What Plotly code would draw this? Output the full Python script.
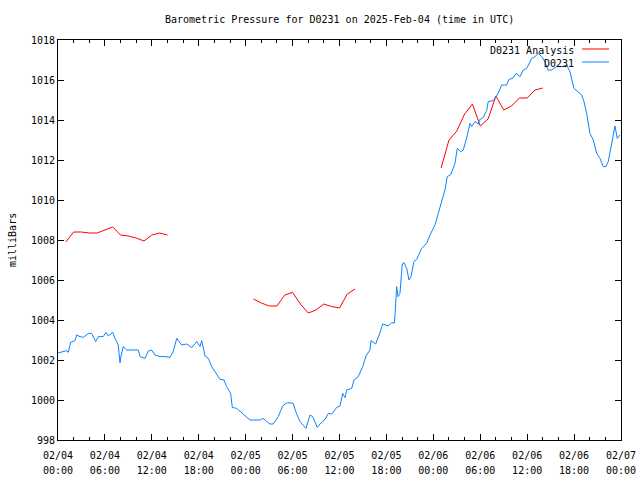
import pandas as pd
import numpy as np
import plotly.graph_objects as go

BASE = pd.Timestamp("2025-02-04 00:00")

# Observed pressure D0231 (hours since 2025-02-04 00:00 UTC, mb)
obs_hours = [0.0, 0.26, 1.11, 1.32, 1.62, 2.17, 2.39, 2.81, 3.24, 3.87, 4.31, 4.82, 5.15, 5.79, 6.14, 6.43, 6.99,
             7.29, 7.71, 7.93, 8.06, 8.35, 8.79, 10.27, 10.49, 11.13, 11.55, 11.98, 12.40, 13.04, 13.68,
             14.32, 14.74, 15.18, 15.82, 16.46, 17.10, 17.74, 18.16, 18.38, 18.80, 19.22, 19.65, 20.08,
             20.72, 21.23, 21.57, 22.08, 22.29, 22.85, 23.70, 24.55, 25.83, 26.25, 26.69, 27.11, 27.53,
             28.17, 28.73, 29.32, 30.09, 30.40, 30.95, 31.71, 32.23, 32.57, 33.16, 33.50, 34.14, 34.57,
             35.00, 35.64, 36.06, 36.41, 36.70, 36.92, 37.56, 37.85, 38.40, 38.97, 39.39, 39.90, 40.03,
             40.63, 41.18, 41.52, 42.24, 42.67, 43.01, 43.10, 43.31, 43.48, 43.73, 44.03, 44.25, 44.59,
             44.89, 45.14, 45.52, 45.87, 46.51, 47.15, 47.57, 47.99, 48.21, 48.63, 49.07, 49.49, 49.78,
             50.22, 50.77, 51.06, 51.50, 51.83, 52.26, 52.69, 52.90, 53.32, 53.75, 53.87, 54.38, 54.82,
             55.02, 55.66, 56.29, 56.73, 57.37, 57.67, 58.15, 58.57, 59.08, 59.50, 59.94, 60.58, 61.00,
             61.42, 61.86, 62.28, 62.66, 63.13, 63.77, 64.62, 65.05, 65.47, 65.98, 66.53, 66.97, 67.26,
             67.61, 68.03, 68.45, 68.89, 69.31, 69.73, 70.08, 70.37, 70.81, 71.23, 71.52, 71.87]
obs_mb = [1002.35, 1002.38, 1002.47, 1002.38, 1002.88, 1002.97, 1003.25, 1003.17, 1003.13, 1003.33, 1003.33,
          1002.92, 1003.17, 1003.17, 1003.38, 1003.2, 1003.38, 1003.08, 1002.75, 1001.85, 1002.2, 1002.67,
          1002.5, 1002.5, 1002.17, 1002.08, 1002.45, 1002.5, 1002.25, 1002.17, 1002.17, 1002.13, 1002.42,
          1003.08, 1002.75, 1002.8, 1002.62, 1002.92, 1002.67, 1002.97, 1002.2, 1002.08, 1001.67, 1001.42,
          1001.03, 1001.0, 1000.67, 1000.33, 999.63, 999.58, 999.3, 999.0, 999.0, 999.08, 998.92, 998.8,
          998.8, 999.17, 999.7, 999.87, 999.83, 999.42, 998.92, 998.58, 999.25, 999.17, 998.63, 998.8,
          999.03, 999.33, 999.3, 999.63, 999.7, 1000.33, 1000.12, 1000.5, 1000.58, 1001.0, 1001.17,
          1001.67, 1002.2, 1002.5, 1002.97, 1002.8, 1003.37, 1003.8, 1003.7, 1003.87, 1003.85, 1004.25,
          1005.67, 1005.17, 1005.33, 1006.8, 1006.87, 1006.58, 1006.0, 1006.17, 1006.92, 1007.03, 1007.58,
          1007.83, 1008.25, 1008.58, 1008.75, 1009.33, 1010.0, 1010.5, 1011.17, 1011.27, 1011.83, 1012.58,
          1012.42, 1012.5, 1013.1, 1013.83, 1013.67, 1013.92, 1013.8, 1014.0, 1014.13, 1014.47, 1014.92,
          1014.97, 1015.33, 1015.75, 1015.75, 1016.03, 1016.08, 1016.33, 1016.17, 1016.5, 1016.58, 1017.08,
          1017.17, 1017.33, 1017.17, 1016.9, 1016.5, 1016.5, 1016.67, 1016.67, 1016.75, 1016.42, 1015.58,
          1015.42, 1015.25, 1014.92, 1014.33, 1013.33, 1013.0, 1012.33, 1012.08, 1011.67, 1011.67, 1011.92,
          1012.83, 1013.7, 1013.08, 1013.25]

# Analysis (hourly, three segments separated by gaps)
ana_hours = [1, 2, 3, 4, 5, 6, 7, 8, 9, 10, 11, 12, 13, 14, None,
             25, 26, 27, 28, 29, 30, 31, 32, 33, 34, 35, 36, 37, 38, None,
             49, 50, 51, 52, 53, 54, 55, 56, 57, 58, 59, 60, 61, 62]
ana_mb = [1007.9, 1008.4, 1008.4, 1008.35, 1008.35, 1008.5, 1008.65, 1008.25, 1008.2, 1008.1, 1007.95,
          1008.25, 1008.35, 1008.25, None,
          1005.05, 1004.85, 1004.7, 1004.7, 1005.25, 1005.38, 1004.8, 1004.35, 1004.5, 1004.8, 1004.67,
          1004.6, 1005.3, 1005.55, None,
          1011.6, 1013.0, 1013.45, 1014.3, 1014.8, 1013.7, 1014.05, 1015.2, 1014.5, 1014.7, 1015.1,
          1015.1, 1015.5, 1015.6]

tick_hours = [0, 6, 12, 18, 24, 30, 36, 42, 48, 54, 60, 66, 72]
tick_dates = ["02/04", "02/04", "02/04", "02/04", "02/05", "02/05", "02/05", "02/05",
              "02/06", "02/06", "02/06", "02/06", "02/07"]
tick_times = ["00:00", "06:00", "12:00", "18:00", "00:00", "06:00", "12:00", "18:00",
              "00:00", "06:00", "12:00", "18:00", "00:00"]


def to_time(hours):
    return [None if h is None else BASE + pd.Timedelta(hours=h) for h in hours]


FONT = "DejaVu Sans Mono"
RED = "#ff0000"
BLUE = "#0a84ff"
XRANGE = [BASE, BASE + pd.Timedelta(hours=72)]

fig = go.Figure()
fig.add_trace(go.Scatter(x=to_time(ana_hours), y=ana_mb, mode="lines",
                         line=dict(color=RED, width=1), connectgaps=False,
                         name="D0231 Analysis", showlegend=False, hoverinfo="skip"))
fig.add_trace(go.Scatter(x=to_time(obs_hours), y=obs_mb, mode="lines",
                         line=dict(color=BLUE, width=1), name="D0231", showlegend=False))
# invisible helper trace so the second-row time labels axis is drawn
fig.add_trace(go.Scatter(x=XRANGE, y=[None, None], xaxis="x2", yaxis="y", mode="lines",
                         showlegend=False, hoverinfo="skip"))

tickfont = dict(family=FONT, size=10, color="black")

fig.update_layout(
    xaxis=dict(range=XRANGE, tickmode="array", tickvals=to_time(tick_hours), ticktext=tick_dates,
               showline=True, linecolor="black", linewidth=1, mirror="ticks",
               ticks="inside", tickcolor="black", ticklen=6, tickwidth=1,
               minor=dict(dtick=2 * 3600 * 1000, tick0=BASE, ticks="inside", ticklen=3,
                          tickcolor="black", showgrid=False),
               showgrid=False, zeroline=False, automargin=False, tickfont=tickfont,
               ticklabelstandoff=6),
    xaxis2=dict(range=XRANGE, overlaying="x", anchor="y", side="bottom",
                tickmode="array", tickvals=to_time(tick_hours), ticktext=tick_times,
                showline=False, ticks="", showgrid=False, zeroline=False, automargin=False,
                tickfont=tickfont, ticklabelstandoff=23),
    yaxis=dict(range=[998, 1018], dtick=2, tick0=998,
               showline=True, linecolor="black", linewidth=1, mirror="ticks",
               ticks="inside", tickcolor="black", ticklen=6, tickwidth=1,
               showgrid=False, zeroline=False, automargin=False, tickfont=tickfont),
)

annotations = [
    dict(text="Barometric Pressure for D0231 on 2025-Feb-04 (time in UTC)", xref="paper", yref="paper",
         x=0.5, y=(440 - 19) / 400, xanchor="center", yanchor="middle", showarrow=False,
         font=dict(family=FONT, size=10, color="black")),
    dict(text="milliBars", xref="paper", yref="paper", x=(12 - 58) / 563, y=0.5, textangle=-90,
         xanchor="center", yanchor="middle", showarrow=False,
         font=dict(family=FONT, size=10, color="black")),
    dict(text="D0231 Analysis", xref="paper", yref="paper", x=(576 - 58) / 563, y=(440 - 50) / 400,
         xanchor="right", yanchor="middle", showarrow=False,
         font=dict(family=FONT, size=10, color="black")),
    dict(text="D0231", xref="paper", yref="paper", x=(576 - 58) / 563, y=(440 - 63) / 400,
         xanchor="right", yanchor="middle", showarrow=False,
         font=dict(family=FONT, size=10, color="black")),
]
shapes = [
    dict(type="line", xref="paper", yref="paper", x0=(582 - 58) / 563, x1=(609 - 58) / 563,
         y0=(440 - 49) / 400, y1=(440 - 49) / 400, line=dict(color=RED, width=1)),
    dict(type="line", xref="paper", yref="paper", x0=(582 - 58) / 563, x1=(609 - 58) / 563,
         y0=(440 - 62) / 400, y1=(440 - 62) / 400, line=dict(color=BLUE, width=1)),
]

fig.update_layout(width=640, height=480, margin=dict(l=58, r=19, t=40, b=40),
                  paper_bgcolor="white", plot_bgcolor="white",
                  font=dict(family=FONT, size=10, color="black"),
                  annotations=annotations, shapes=shapes, showlegend=False)

fig.write_html("out.html")
